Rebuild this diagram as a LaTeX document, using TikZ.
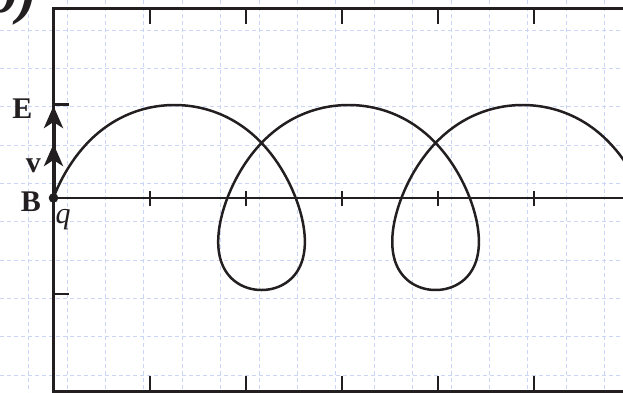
\documentclass[tikz,border=0pt]{standalone}
\usepackage{fontspec}
\setmainfont{Liberation Serif}
\usetikzlibrary{arrows.meta}
\definecolor{ink}{HTML}{231F20}
\definecolor{gridblue}{RGB}{203,213,246}
\begin{document}
\begin{tikzpicture}[x=1pt,y=-1pt,
  gridline/.style={draw=gridblue,line width=0.8pt,dash pattern=on 4pt off 3pt},
  frame/.style={draw=ink,line width=3pt,line join=miter},
  axisline/.style={draw=ink,line width=2.6pt},
  tick/.style={draw=ink,line width=2.6pt},
  traj/.style={draw=ink,line width=2.5pt},
  vec/.style={draw=ink,line width=4pt,-{Stealth[length=22pt,width=19pt,inset=6pt]}},
  lbl/.style={inner sep=0pt,text=ink,font=\fontsize{30}{36}\selectfont}]
\useasboundingbox (0,0) rectangle (623,392);
\clip (0,0) rectangle (623,392);
% background grid
\foreach \i in {0,...,15} \draw[gridline] ({28.5+38.4*\i},0) -- ({28.5+38.4*\i},392);
\foreach \j in {0,...,9} \draw[gridline] (0,{30+38.33*\j}) -- (623,{30+38.33*\j});
% frame
\coordinate (fbl) at (53.5,398);
\coordinate (ftl) at (53.5,8.5);
\coordinate (ftr) at (630,8.5);
\coordinate (fbl2) at (53.5,391);
\coordinate (fbr) at (630,391);
\draw[frame] (fbl) -- (ftl) -- (ftr);
\draw[frame] (fbl2) -- (fbr);
% ticks top, bottom and on the axis
\foreach \x in {150,246,342,438,534} {
  \draw[tick] (\x,8.5) -- (\x,24);
  \draw[tick] (\x,391) -- (\x,376);
  \draw[tick] (\x,190.5) -- (\x,206);
}
% ticks left
\foreach \y in {104.5,294} \draw[tick] (53.5,\y) -- (69,\y);
% horizontal axis
\coordinate (q) at (53.5,198);
\coordinate (axend) at (630,198);
\draw[axisline] (q) -- (axend);
% trajectory
\draw[traj] plot[domain=0:15.7,samples=500,variable=\s]
  ({131 + 27.7*\s - 77.5*cos(\s r) + 4*sin(2*\s r)*(1 - sin(\s r))},
   {197.5 - 92.5*sin(\s r)});
% vectors
\coordinate (Etip) at (53.5,106);
\coordinate (vtip) at (53.5,144);
\draw[vec] (q) -- (Etip);
\draw[vec] (q) -- (vtip);
\fill[ink] (q) circle (4.8pt);
% labels
\node[lbl,anchor=base] (Elbl) at (22.5,118) {\textbf{E}};
\node[lbl,anchor=base] (vlbl) at (33.3,172) {\textbf{v}};
\node[lbl,anchor=base] (Blbl) at (31,211.5) {\textbf{B}};
\node[lbl,anchor=base west] (qlbl) at (55.5,223) {\textit{q}};
\node[inner sep=0pt,text=ink,font=\fontsize{60}{70}\selectfont,anchor=base east] (panel) at (38,12) {\textbf{\textit{b)}}};
\end{tikzpicture}
\end{document}
